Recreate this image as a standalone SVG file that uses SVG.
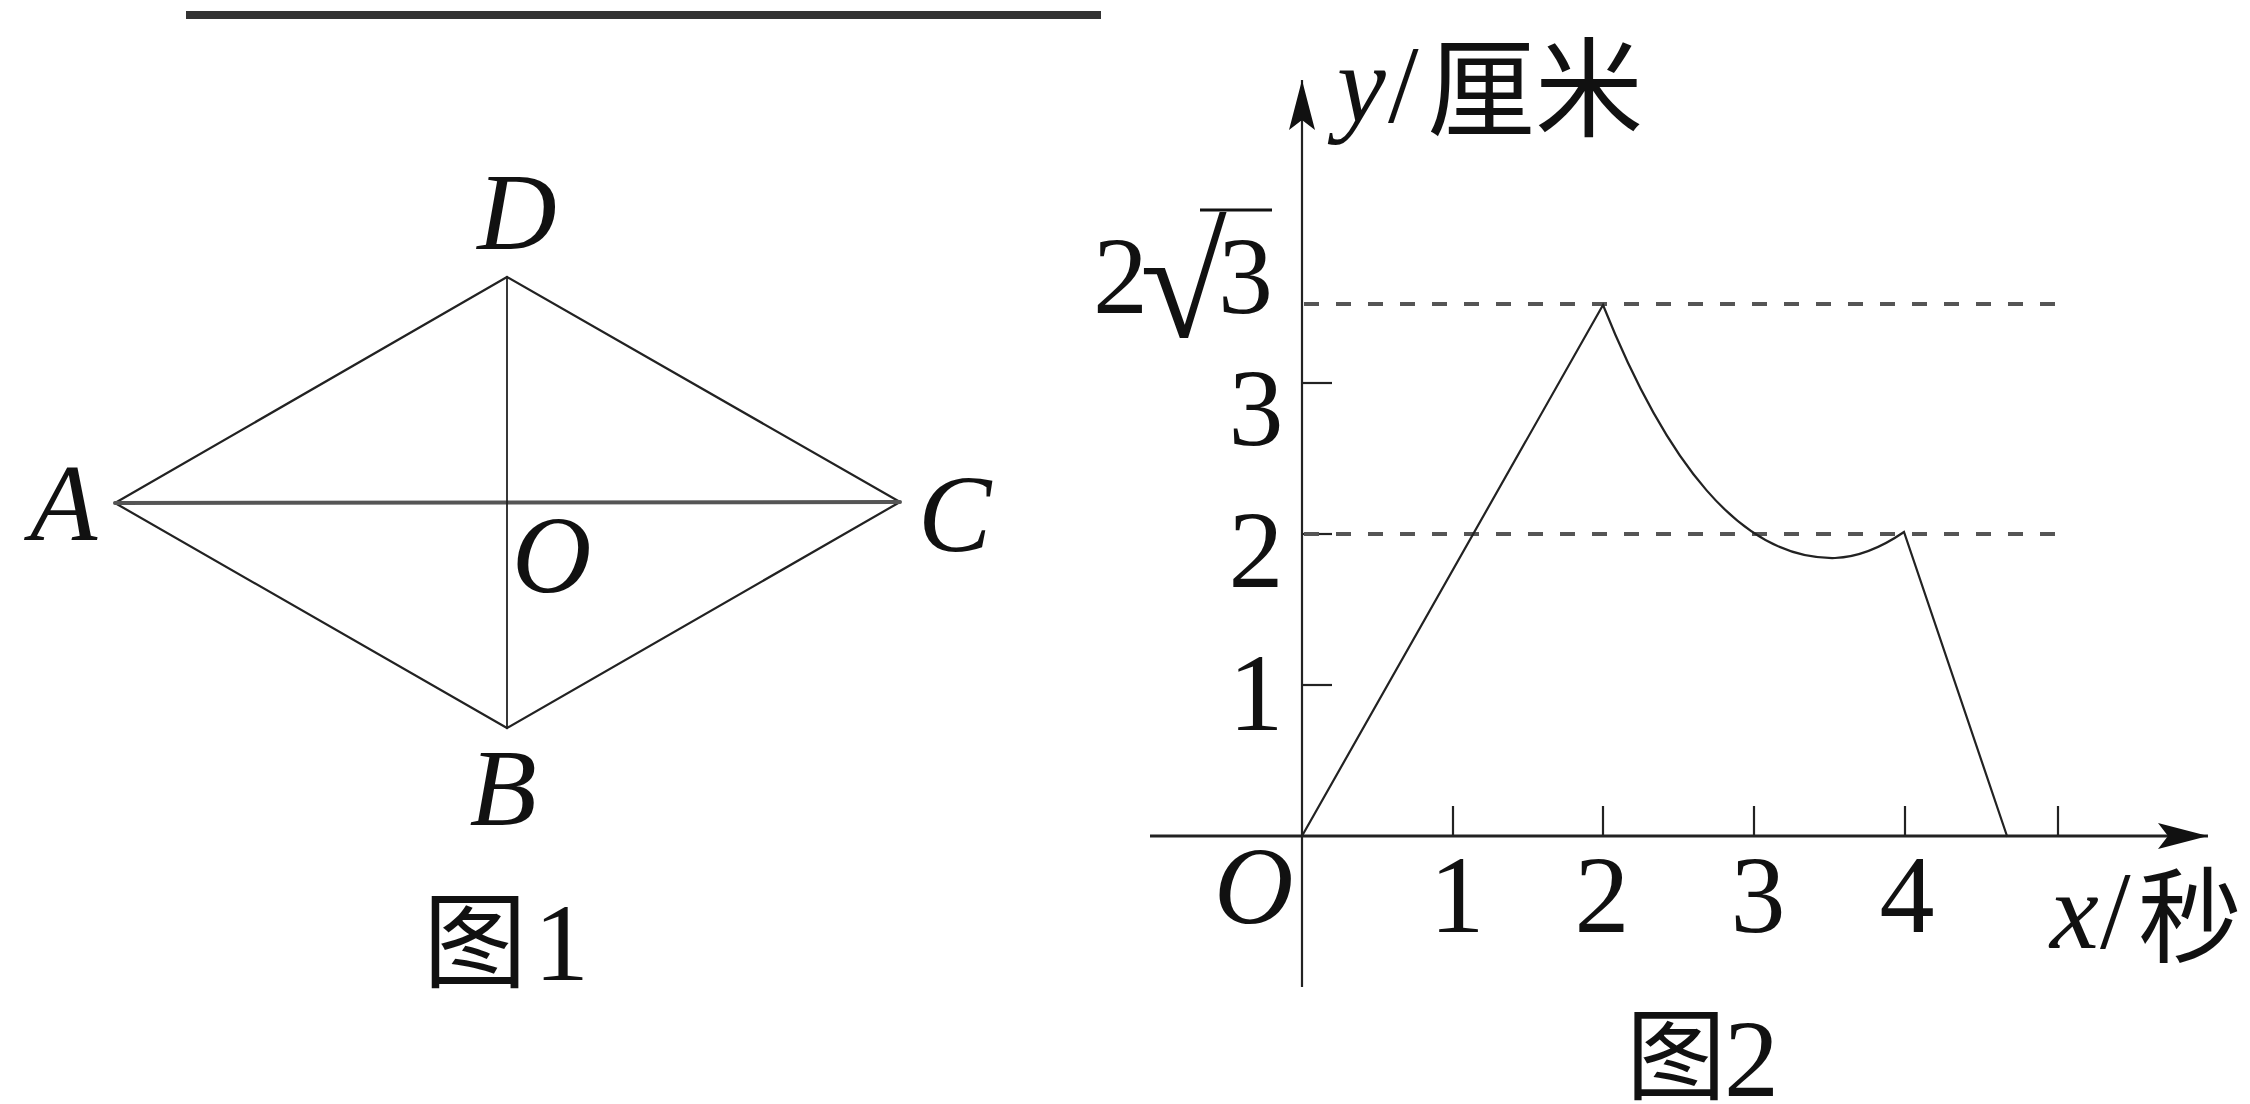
<svg xmlns="http://www.w3.org/2000/svg" width="2250" height="1104" viewBox="0 0 2250 1104">
<style>
.ln{stroke:#222;stroke-width:2.2;fill:none;stroke-linecap:round}
.ax{stroke:#222;stroke-width:2.2;fill:none}
.dash{stroke:#555;stroke-width:4;stroke-dasharray:15 17;fill:none}
.it{font-family:"Liberation Serif","Times New Roman",serif;font-style:italic;font-size:110px;fill:#111}
.num{font-family:"Liberation Serif","Times New Roman",serif;font-size:110px;fill:#111}
.cjk{font-family:"Noto Sans CJK SC","Noto Sans CJK JP",sans-serif;font-size:104px;fill:#111}
</style>
<defs>
<marker id="arr" viewBox="0 0 50 26" refX="50" refY="13" markerWidth="50" markerHeight="26" markerUnits="userSpaceOnUse" orient="auto">
<path d="M0,0 L50,13 L0,26 L10,13 Z" fill="#111"/>
</marker>
</defs>
<rect width="2250" height="1104" fill="#fff"/>
<rect x="186" y="11" width="915" height="8" fill="#333"/>

<g id="figure1">
<g id="connectors1">
<line class="ln" x1="115" y1="503" x2="507" y2="277"/>
<line class="ln" x1="507" y1="277" x2="900" y2="502"/>
<line class="ln" x1="900" y1="502" x2="507" y2="728"/>
<line class="ln" x1="507" y1="728" x2="115" y2="503"/>
<line class="ln" x1="115" y1="503" x2="900" y2="502" style="stroke:#555;stroke-width:4"/>
<line class="ln" x1="507" y1="277" x2="507" y2="728" style="stroke-width:1.8"/>
</g>
<g id="nodeA"><text class="it" x="30" y="540">A</text></g>
<g id="nodeB"><text class="it" x="503" y="825" text-anchor="middle">B</text></g>
<g id="nodeC"><text class="it" x="918" y="551">C</text></g>
<g id="nodeD"><text class="it" x="517" y="249" text-anchor="middle">D</text></g>
<g id="nodeO"><text class="it" x="512" y="592">O</text></g>
<g id="caption1"><text x="423" y="980"><tspan class="cjk">图</tspan><tspan class="num" x="534">1</tspan></text></g>
</g>

<g id="figure2">
<g id="axes">
<line class="ax" x1="1302" y1="987" x2="1302" y2="80" marker-end="url(#arr)"/>
<line class="ax" x1="1150" y1="836" x2="2208" y2="836" marker-end="url(#arr)" style="stroke-width:3.2"/>
<line class="ax" x1="1302" y1="685" x2="1332" y2="685"/>
<line class="ax" x1="1302" y1="534" x2="1332" y2="534"/>
<line class="ax" x1="1302" y1="383" x2="1332" y2="383"/>
<line class="ax" x1="1453" y1="806" x2="1453" y2="836"/>
<line class="ax" x1="1603" y1="806" x2="1603" y2="836"/>
<line class="ax" x1="1754" y1="806" x2="1754" y2="836"/>
<line class="ax" x1="1905" y1="806" x2="1905" y2="836"/>
<line class="ax" x1="2058" y1="806" x2="2058" y2="836"/>
</g>
<g id="guides">
<line class="dash" x1="1304" y1="304" x2="2060" y2="304"/>
<line class="dash" x1="1304" y1="534" x2="2060" y2="534"/>
</g>
<g id="graph">
<path class="ln" d="M1302,836 L1603,305 C1665,460 1740,560 1835,558 C1860,557 1885,545 1904,532 L2007,836"/>
</g>
<g id="labels2">
<text class="it" x="1337" y="122">y<tspan class="num" style="font-style:normal" x="1388">/</tspan><tspan class="cjk" style="font-style:normal;font-size:108px" x="1427" y="128">厘米</tspan></text>
<text class="num" x="1093" y="313">2<tspan x="1140" y="337" style="font-size:158px">√</tspan><tspan x="1218" y="313">3</tspan></text>
<line x1="1200" y1="210" x2="1272" y2="210" stroke="#111" stroke-width="3"/>
<text class="num" x="1256" y="445" text-anchor="middle">3</text>
<text class="num" x="1256" y="587" text-anchor="middle">2</text>
<text class="num" x="1256" y="730" text-anchor="middle">1</text>
<text class="it" x="1214" y="923">O</text>
<text class="num" x="1457" y="932" text-anchor="middle">1</text>
<text class="num" x="1602" y="932" text-anchor="middle">2</text>
<text class="num" x="1758" y="932" text-anchor="middle">3</text>
<text class="num" x="1907" y="932" text-anchor="middle">4</text>
<text class="it" x="2050" y="948">x<tspan class="num" style="font-style:normal" x="2100">/</tspan><tspan class="cjk" style="font-style:normal;font-size:104px" x="2138" y="955">秒</tspan></text>
<text x="1626" y="1092"><tspan class="cjk" style="font-size:100px">图</tspan><tspan class="num" x="1724" y="1096">2</tspan></text>
</g>
</g>
</svg>
